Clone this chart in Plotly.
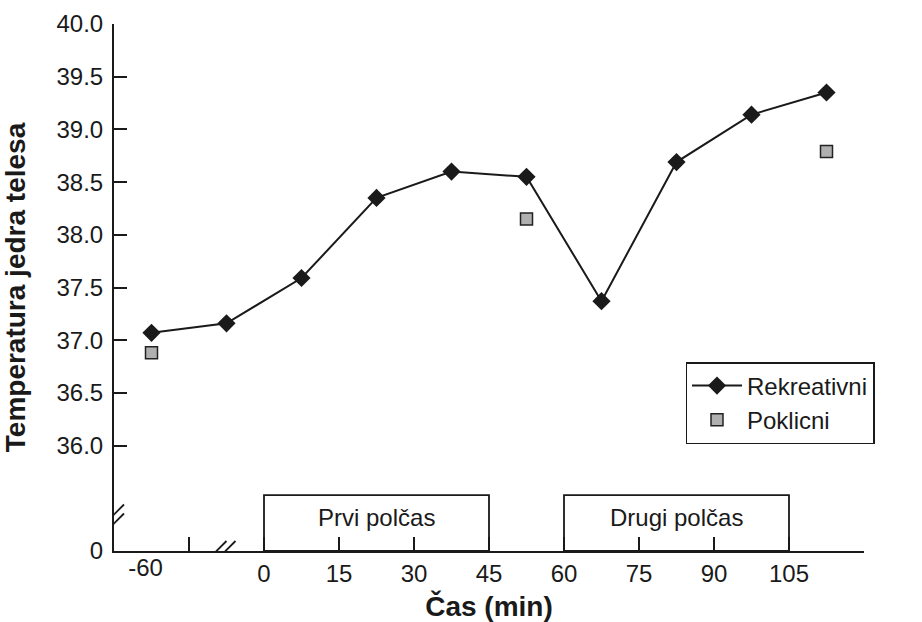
import plotly.graph_objects as go

# ---------------- data ----------------
time_rekreativni = [-60, -7.5, 7.5, 22.5, 37.5, 52.5, 67.5, 82.5, 97.5, 112.5]
temp_rekreativni = [37.07, 37.16, 37.59, 38.35, 38.60, 38.55, 37.37, 38.69, 39.14, 39.35]

time_poklicni = [-60, 52.5, 112.5]
temp_poklicni = [36.88, 38.15, 38.79]

x_tick_minutes = [0, 15, 30, 45, 60, 75, 90, 105]
x_tick_labels = ["0", "15", "30", "45", "60", "75", "90", "105"]
pre_minutes = [-60]
pre_labels = ["-60"]
y_tick_values = [36.0, 36.5, 37.0, 37.5, 38.0, 38.5, 39.0, 39.5, 40.0]
y_tick_labels = ["36.0", "36.5", "37.0", "37.5", "38.0", "38.5", "39.0", "39.5", "40.0"]

half_names = ["Prvi polčas", "Drugi polčas"]
half_starts = [0, 60]
half_ends = [45, 105]

# ---------------- axis helpers (broken axes) ----------------
PRE_TICK = -45       # unlabeled tick left of the x-axis break
X_END = 120          # last (unlabeled) tick
Y_ZERO = 35.0        # axis position representing 0 below the y break


def x_pos(t):
    """Compress pre-game minutes to the left of the axis break."""
    return t if t > -30 else -15 + (t + 45) * 0.5


def y_pos(v):
    return v


FONT = "Liberation Sans, Arial, Helvetica, sans-serif"
INK = "#1a1a1a"

fig = go.Figure()

fig.add_trace(go.Scatter(
    x=[x_pos(t) for t in time_rekreativni],
    y=[y_pos(v) for v in temp_rekreativni],
    mode="lines+markers",
    name="Rekreativni",
    line=dict(color=INK, width=2),
    marker=dict(symbol="diamond", size=14, color=INK, line=dict(width=0)),
))

fig.add_trace(go.Scatter(
    x=[x_pos(t) for t in time_poklicni],
    y=[y_pos(v) for v in temp_poklicni],
    mode="markers",
    name="Poklicni",
    marker=dict(symbol="square", size=12, color="#b0b0b0",
                line=dict(width=1.5, color="#222222")),
))

# empty trace to host the secondary x-axis carrying the "-60" label
fig.add_trace(go.Scatter(x=[], y=[], xaxis="x2", showlegend=False, hoverinfo="skip"))

# half-time boxes
shapes = []
annotations = []
box_top = Y_ZERO + 0.53
for name, s, e in zip(half_names, half_starts, half_ends):
    shapes.append(dict(type="rect", xref="x", yref="y", x0=x_pos(s), x1=x_pos(e),
                       y0=Y_ZERO, y1=box_top, line=dict(color=INK, width=1.8),
                       fillcolor="rgba(0,0,0,0)", layer="above"))
    annotations.append(dict(xref="x", yref="y", x=(x_pos(s) + x_pos(e)) / 2,
                            y=Y_ZERO + 0.32, text=name, showarrow=False,
                            font=dict(family=FONT, size=24, color=INK),
                            xanchor="center", yanchor="middle"))

# break marks "//" on both axes
y_break = Y_ZERO + 0.28
x_break = -8.5
for off in (0, 9):
    shapes.append(dict(type="line", xref="x", yref="y",
                       xsizemode="pixel", ysizemode="pixel",
                       xanchor=-30, yanchor=y_break,
                       x0=-12, x1=10, y0=-9 - off + 4, y1=13 - off + 4,
                       line=dict(color=INK, width=1.8)))
    shapes.append(dict(type="line", xref="x", yref="y",
                       xsizemode="pixel", ysizemode="pixel",
                       xanchor=x_break, yanchor=Y_ZERO,
                       x0=-15 + off, x1=5 + off, y0=-10, y1=10,
                       line=dict(color=INK, width=1.8)))

x_range = [-30, X_END]

fig.update_layout(
    width=922, height=622,
    margin=dict(l=114, r=58, t=24, b=71, autoexpand=False),
    paper_bgcolor="white", plot_bgcolor="white",
    font=dict(family=FONT, size=24, color=INK),
    showlegend=True,
    legend=dict(x=0.762, y=0.3586, xanchor="left", yanchor="top",
                bordercolor=INK, borderwidth=1.5, bgcolor="white",
                font=dict(family=FONT, size=24, color=INK),
                itemwidth=50, tracegroupgap=0),
    xaxis=dict(
        range=x_range, showgrid=False, zeroline=False, automargin=False,
        showline=True, linecolor=INK, linewidth=2,
        ticks="inside", ticklen=14, tickwidth=2, tickcolor=INK,
        tickvals=[x_pos(PRE_TICK)] + [x_pos(t) for t in x_tick_minutes] + [X_END],
        ticktext=[""] + x_tick_labels + [""],
        tickfont=dict(family=FONT, size=24, color=INK),
        title=dict(text="<b>Čas (min)</b>", font=dict(family=FONT, size=28, color=INK),
                   standoff=11),
    ),
    xaxis2=dict(
        range=x_range, overlaying="x", anchor="y", side="bottom", automargin=False,
        showgrid=False, zeroline=False, showline=False, ticks="",
        tickvals=[x_pos(t) for t in pre_minutes], ticktext=pre_labels,
        ticklabelshift=-6,
        tickfont=dict(family=FONT, size=24, color=INK),
    ),
    yaxis=dict(
        range=[Y_ZERO, 40.0], showgrid=False, zeroline=False, automargin=False,
        showline=True, linecolor=INK, linewidth=2,
        ticks="inside", ticklen=13, tickwidth=2, tickcolor=INK,
        tickvals=[Y_ZERO] + [y_pos(v) for v in y_tick_values],
        ticktext=["0"] + y_tick_labels,
        ticklabelstandoff=4,
        tickfont=dict(family=FONT, size=24, color=INK),
        title=dict(text="<b>Temperatura jedra telesa</b>",
                   font=dict(family=FONT, size=28, color=INK), standoff=25),
    ),
    shapes=shapes,
    annotations=annotations,
)

fig.write_html(
    "out.html",
    config={"displayModeBar": False},
    post_script="document.body.style.margin='0';document.body.style.overflow='hidden';",
)
